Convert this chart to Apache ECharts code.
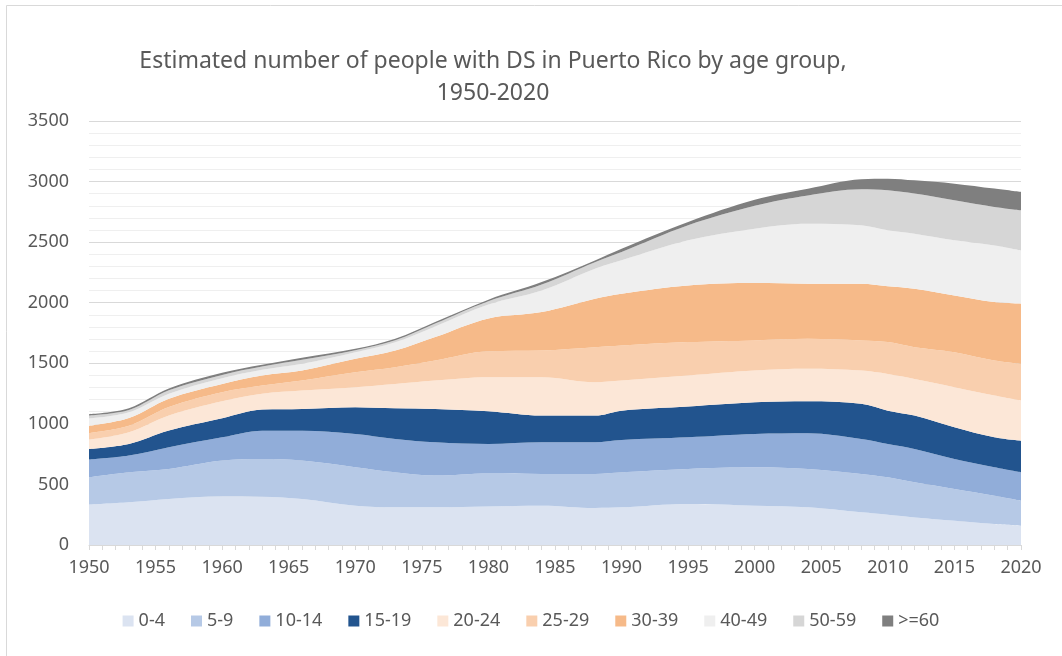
<!DOCTYPE html>
<html>
<head>
<meta charset="utf-8">
<script src="https://cdn.jsdelivr.net/npm/echarts@6/dist/echarts.min.js"></script>
<style>
html,body{margin:0;padding:0;background:#fff;}
#chart{width:1062px;height:656px;}
</style>
</head>
<body>
<div id="chart"></div>
<script>
const years = [1950,1953,1956,1960,1963,1966,1970,1973,1976,1980,1984,1988,1990,1995,2000,2004,2008,2010,2012,2015,2018,2020];
const seriesNames = ['0-4','5-9','10-14','15-19','20-24','25-29','30-39','40-49','50-59','>=60'];
const age0_4   = [333,352,380,402,399,380,325,311,311,318,325,306,311,339,325,311,270,250,228,201,173,159];
const age5_9   = [226,248,248,295,311,317,317,289,262,272,262,281,289,289,317,317,317,309,289,262,234,207];
const age10_14 = [146,138,179,192,234,247,275,275,275,244,261,261,267,261,274,294,288,275,276,247,234,234];
const age15_19 = [88,96,138,157,174,179,221,254,275,271,221,220,242,254,262,264,290,275,275,262,248,261];
const age20_24 = [77,97,125,141,130,152,165,201,235,280,316,276,249,256,262,268,275,303,303,331,345,332];
const age25_29 = [55,54,69,74,68,83,123,138,165,215,221,289,289,276,249,248,249,263,262,289,289,303];
const age30_39 = [60,64,69,69,83,82,111,137,193,270,317,400,427,467,473,454,467,460,482,468,482,496];
const age40_49 = [60,47,41,47,47,56,55,69,88,115,178,248,276,373,449,496,483,463,455,455,468,440];
const age50_59 = [25,19,28,27,27,33,16,16,24,27,49,54,68,124,189,234,297,330,331,331,318,331];
const age60    = [10,14,14,17,14,16,11,12,12,13,20,14,28,28,50,55,83,96,109,137,151,151];
const seriesValues = [age0_4,age5_9,age10_14,age15_19,age20_24,age25_29,age30_39,age40_49,age50_59,age60];
const colors = ['#dbe3f1','#b6c9e6','#91add9','#22548e','#fce7d7','#f9cfae','#f6ba89','#efefef','#d6d6d6','#7f7f7f'];

const FONT = 'Noto Sans';
const chart = echarts.init(document.getElementById('chart'));
chart.setOption({
  animation:false,
  backgroundColor:'#fff',
  color:colors,
  graphic:[{type:'rect',shape:{x:6.5,y:5.5,width:1100,height:700},style:{fill:'none',stroke:'#d9d9d9',lineWidth:1},silent:true}],
  title:{
    text:'Estimated number of people with DS in Puerto Rico by age group,\n1950-2020',
    left:488, top:40, textAlign:'center',
    textStyle:{fontFamily:FONT,fontSize:23,fontWeight:'normal',color:'#595959',lineHeight:32}
  },
  legend:{
    bottom:21, left:'center',
    icon:'rect', itemWidth:11, itemHeight:11, itemGap:26,
    textStyle:{fontFamily:FONT,fontSize:18,color:'#595959'},
    data:seriesNames
  },
  grid:{left:89,right:41,top:121,bottom:111,containLabel:false},
  xAxis:{
    type:'value', min:1950, max:2020, interval:5,
    axisLine:{show:true,lineStyle:{color:'#d9d9d9',width:1}},
    axisTick:{show:true,length:5,lineStyle:{color:'#d9d9d9'}},
    minorTick:{show:true,splitNumber:5,length:5,lineStyle:{color:'#d9d9d9'}},
    splitLine:{show:false},
    axisLabel:{fontFamily:FONT,fontSize:18,color:'#595959',margin:14,formatter:v=>String(v)}
  },
  yAxis:{
    type:'value', min:0, max:3500, interval:500,
    axisLine:{show:false}, axisTick:{show:false},
    axisLabel:{fontFamily:FONT,fontSize:18,color:'#595959',margin:20,formatter:v=>String(v)},
    splitLine:{show:true,lineStyle:{color:'#d9d9d9',width:1}},
    minorTick:{show:false,splitNumber:5},
    minorSplitLine:{show:true,lineStyle:{color:'#efefef',width:1}}
  },
  series: seriesNames.map((n,i)=>({
    name:n, type:'line', stack:'total', smooth:0.35, symbol:'none',
    lineStyle:{width:0}, areaStyle:{color:colors[i],opacity:1},
    itemStyle:{color:colors[i]},
    encode:{x:1,y:0},
    data: years.map((y,j)=>[seriesValues[i][j], y])
  }))
});
</script>
</body>
</html>
